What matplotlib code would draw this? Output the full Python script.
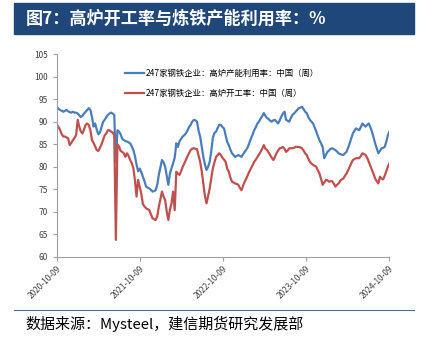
import matplotlib
matplotlib.use("Agg")
import matplotlib.pyplot as plt
import matplotlib.dates as mdates
import pandas as pd

plt.rcParams['font.family'] = ['Noto Sans CJK SC', 'DejaVu Sans']

# weekly data starting 2020-10-09
start = "2020-10-09"
capacity_util = [
    93.3, 92.8, 92.6, 92.4, 92.2, 92.4, 92.6, 92.3, 92.1, 92.0,
    92.2, 92.0, 92.0, 91.8, 91.4, 91.0, 91.3, 91.8, 92.2, 92.6,
    93.0, 92.6, 91.0, 88.9, 89.6, 88.2, 87.2, 87.6, 88.8, 90.0,
    90.4, 91.0, 91.5, 91.8, 92.0, 91.8, 91.5, 81.0, 88.1, 87.8,
    87.2, 86.2, 85.9, 85.7, 85.6, 85.4, 85.2, 84.5, 83.7, 82.4,
    80.5, 79.0, 79.6, 78.8, 77.8, 76.8, 75.6, 75.4, 75.2, 74.9,
    74.5, 74.6, 74.8, 76.0, 78.2, 79.8, 81.5, 81.0, 80.0, 78.0,
    76.0, 78.5, 79.7, 80.8, 82.0, 85.2, 84.4, 85.6, 86.2, 86.7,
    87.0, 87.4, 88.0, 88.8, 89.3, 90.0, 90.4, 90.3, 90.0, 88.0,
    86.7, 84.5, 82.2, 80.5, 79.3, 80.0, 81.1, 83.5, 86.5, 87.5,
    87.8, 88.6, 89.3, 89.3, 88.8, 88.5, 87.0, 85.5, 84.8, 83.8,
    83.0, 82.6, 82.2, 82.4, 82.6, 82.4, 82.2, 82.8, 83.3, 83.8,
    84.4, 85.4, 86.3, 87.2, 88.1, 88.8, 89.6, 90.0, 90.7, 91.2,
    91.9, 91.3, 90.8, 90.6, 90.2, 90.0, 90.3, 90.4, 90.0, 89.6,
    90.3, 91.1, 91.8, 92.2, 90.4, 90.2, 90.0, 90.8, 91.5, 91.8,
    92.2, 92.6, 93.0, 93.1, 93.3, 92.8, 92.2, 91.9, 91.0, 90.4,
    90.0, 89.6, 88.7, 87.8, 86.8, 85.9, 85.2, 84.4, 81.9, 82.6,
    83.3, 83.6, 84.0, 84.1, 83.9, 83.7, 83.4, 83.0, 82.8, 82.7,
    82.6, 83.0, 83.3, 84.2, 85.2, 86.3, 87.4, 88.0, 88.5, 88.3,
    88.1, 88.8, 89.6, 89.2, 88.9, 89.3, 89.6, 88.8, 87.8, 86.5,
    85.2, 84.1, 83.0, 83.5, 84.1, 84.2, 84.4, 85.5, 87.0, 87.8,
]
operating_rate = [
    89.3, 88.8, 88.1, 87.2, 86.7, 86.7, 86.5, 86.3, 84.8, 85.3,
    85.9, 86.4, 87.0, 90.4, 88.9, 87.8, 87.4, 88.3, 89.3, 89.6,
    89.2, 88.1, 85.9, 85.3, 84.5, 83.7, 83.5, 84.2, 85.0, 86.0,
    87.0, 87.4, 88.1, 88.1, 87.8, 87.6, 87.0, 63.8, 85.0, 84.5,
    83.5, 83.3, 83.0, 82.2, 83.0, 82.4, 81.5, 80.8, 79.7, 77.0,
    73.4, 77.1, 75.6, 74.0, 71.7, 71.2, 70.8, 70.6, 70.4, 69.5,
    68.6, 68.4, 68.2, 69.0, 71.1, 72.8, 74.5, 73.4, 72.6, 70.0,
    68.2, 70.5, 71.9, 74.5, 70.4, 78.9, 78.5, 78.2, 79.0, 80.0,
    80.7, 81.5, 82.3, 83.0, 83.7, 84.0, 84.1, 84.0, 83.9, 82.5,
    81.1, 79.0, 76.3, 73.5, 71.9, 73.5, 75.2, 77.5, 79.7, 81.0,
    82.2, 82.6, 83.0, 82.6, 82.0, 81.6, 81.1, 79.6, 78.9, 77.6,
    76.7, 76.5, 76.3, 76.2, 76.0, 75.3, 74.8, 75.8, 76.7, 77.4,
    78.2, 79.0, 79.7, 80.4, 81.1, 81.6, 82.2, 82.7, 83.3, 84.0,
    84.8, 84.0, 83.7, 83.2, 82.6, 82.0, 81.5, 82.2, 83.0, 83.6,
    84.1, 84.2, 84.4, 84.0, 83.3, 83.6, 84.1, 84.1, 84.1, 84.2,
    84.4, 84.4, 84.4, 84.3, 84.1, 83.6, 83.0, 82.6, 81.8, 81.1,
    80.7, 80.4, 80.2, 80.0, 79.2, 78.5, 77.3, 76.0, 76.5, 77.1,
    77.0, 76.7, 76.8, 76.8, 76.3, 75.6, 76.0, 76.3, 76.9, 77.2,
    77.4, 78.0, 78.5, 79.2, 80.0, 80.8, 81.5, 81.7, 81.9, 81.9,
    81.9, 82.4, 83.0, 82.8, 82.6, 82.0, 81.1, 80.2, 79.3, 78.4,
    77.4, 76.8, 76.3, 77.8, 77.4, 77.2, 78.0, 79.0, 80.0, 80.8,
]
series_names = ["247家钢铁企业：高炉产能利用率：中国（周）",
                "247家钢铁企业：高炉开工率：中国（周）"]
tick_dates = ["2020-10-09", "2021-10-09", "2022-10-09", "2023-10-09", "2024-10-09"]

dates = pd.date_range(start, periods=len(capacity_util), freq="7D")

fig = plt.figure(figsize=(4.26, 3.39), dpi=100)

# title bar
fig.patches.append(plt.Rectangle((14 / 426, 1 - 34 / 339), 400 / 426, 31 / 339,
                                 transform=fig.transFigure, color="#1F477A", zorder=0))
fig.text(26 / 426, 1 - 19 / 339, "图7：高炉开工率与炼铁产能利用率：%", color="white",
         fontsize=12.3, fontweight="bold", va="center", ha="left")

# footer rule and source
fig.add_artist(plt.Line2D([14 / 426, 414 / 426], [1 - 310 / 339, 1 - 310 / 339],
                          transform=fig.transFigure, color="#4F6F9F", lw=0.8))
fig.text(25 / 426, 1 - 324 / 339, "数据来源：Mysteel，建信期货研究发展部", color="black",
         fontsize=10.8, va="center", ha="left")

ax = fig.add_axes([57 / 426, 1 - 257 / 339, 332 / 426, 203 / 339])
ax.plot(dates, capacity_util, color="#4A7EBB", lw=1.6, label=series_names[0])
ax.plot(dates, operating_rate, color="#C0504D", lw=1.6, label=series_names[1])

ax.set_ylim(60, 105)
ax.set_yticks(range(60, 106, 5))
ax.set_xlim(pd.Timestamp(tick_dates[0]), pd.Timestamp(tick_dates[-1]))
ax.set_xticks([pd.Timestamp(d) for d in tick_dates])
ax.xaxis.set_major_formatter(mdates.DateFormatter("%Y-%m-%d"))
plt.setp(ax.get_xticklabels(), rotation=45, ha="right", rotation_mode="anchor")

for side in ["top", "right"]:
    ax.spines[side].set_visible(False)
for side in ["left", "bottom"]:
    ax.spines[side].set_color("#A0A0A0")
    ax.spines[side].set_linewidth(0.8)
ax.tick_params(axis="both", colors="#A0A0A0", labelcolor="#404040", labelsize=6,
               length=3, width=0.8)
ax.tick_params(axis="x", pad=2)

ax.legend(loc="upper left", bbox_to_anchor=(0.195, 0.945), frameon=False, fontsize=6,
          handlelength=2.3, handletextpad=0.2, labelspacing=1.35, borderaxespad=0)

fig.savefig("out.png", dpi=100)
